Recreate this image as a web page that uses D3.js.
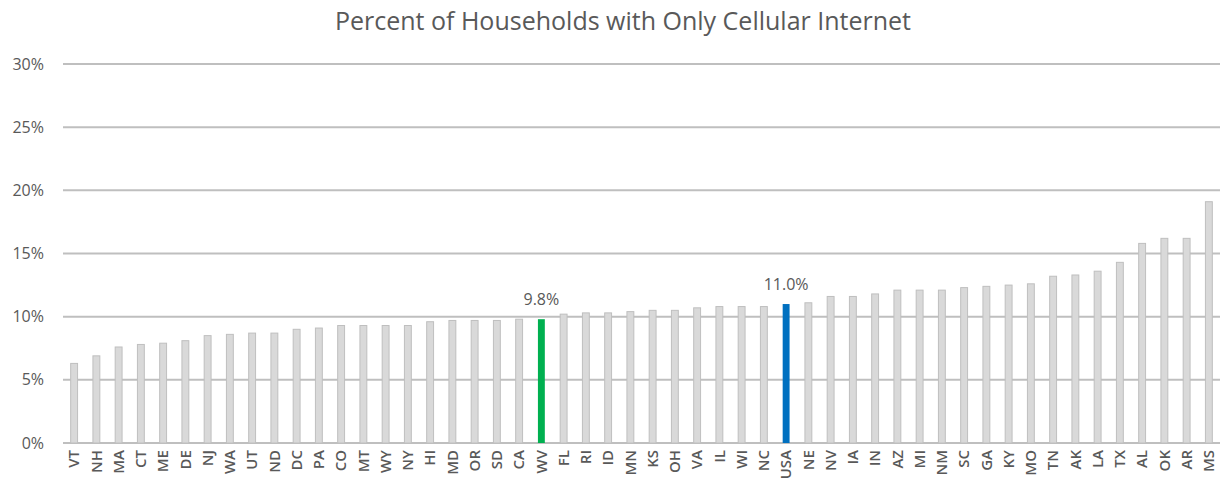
<!DOCTYPE html>
<html><head><meta charset="utf-8">
<script src="https://cdn.jsdelivr.net/npm/d3@7"></script>
<style>body{margin:0;background:#fff;} text{font-family:"Open Sans","Noto Sans",sans-serif;}</style>
</head><body>
<svg id="chart" width="1223" height="487"></svg>
<script>
const states = ["VT","NH","MA","CT","ME","DE","NJ","WA","UT","ND","DC","PA","CO","MT","WY","NY","HI","MD","OR","SD","CA","WV","FL","RI","ID","MN","KS","OH","VA","IL","WI","NC","USA","NE","NV","IA","IN","AZ","MI","NM","SC","GA","KY","MO","TN","AK","LA","TX","AL","OK","AR","MS"];
const values = [6.3,6.9,7.6,7.8,7.9,8.1,8.5,8.6,8.7,8.7,9.0,9.1,9.3,9.3,9.3,9.3,9.6,9.7,9.7,9.7,9.8,9.8,10.2,10.3,10.3,10.4,10.5,10.5,10.7,10.8,10.8,10.8,11.0,11.1,11.6,11.6,11.8,12.1,12.1,12.1,12.3,12.4,12.5,12.6,13.2,13.3,13.6,14.3,15.8,16.2,16.2,19.1];
const yTicks = [0,5,10,15,20,25,30];
const highlight = {"WV":"#00b050","USA":"#0070c0"};
const labelled = ["WV","USA"];

const svg = d3.select("#chart");
const x = d3.scaleBand().domain(states).range([63,1220]).paddingInner(0.69).paddingOuter(0.345);
const y = d3.scaleLinear().domain([0,30]).range([443,64]);

svg.append("text").attr("x",623).attr("y",30).attr("text-anchor","middle")
  .attr("font-size",25).attr("fill","#595959").text("Percent of Households with Only Cellular Internet");

const grid = svg.append("g");
grid.selectAll("line").data(yTicks).join("line")
  .attr("x1",63).attr("x2",1220).attr("y1",d=>y(d)).attr("y2",d=>y(d))
  .attr("stroke","#bfbfbf").attr("stroke-width",2);

const yAxis = d3.axisLeft(y).tickValues(yTicks).tickFormat(d=>d+"%").tickSize(0).tickPadding(0);
const ya = svg.append("g").attr("transform","translate(44,0)").call(yAxis);
ya.select(".domain").remove();
ya.selectAll("text").attr("font-size",16).attr("fill","#595959").style("font-family","'Open Sans','Noto Sans',sans-serif");

svg.append("g").selectAll("rect").data(states).join("rect")
  .attr("x",d=>x(d)).attr("width",x.bandwidth())
  .attr("y",(d,i)=>y(values[i])).attr("height",(d,i)=>y(0)-y(values[i]))
  .attr("fill",d=>highlight[d]||"#d9d9d9")
  .attr("stroke",d=>highlight[d]?"none":"#bfbfbf").attr("stroke-width",1);

const xAxis = d3.axisBottom(x).tickSize(0).tickPadding(0);
const xa = svg.append("g").attr("transform","translate(0,450)").call(xAxis);
xa.select(".domain").remove();
xa.selectAll("text").attr("font-size",15).attr("fill","#595959").attr("font-weight","600")
  .style("font-family","'Open Sans','Noto Sans',sans-serif")
  .attr("transform","rotate(-90)").attr("text-anchor","end").attr("dx",0).attr("dy","0.35em").attr("y",0).attr("x",0);

svg.append("g").selectAll("text").data(labelled).join("text")
  .attr("x",d=>x(d)+x.bandwidth()/2).attr("y",d=>y(values[states.indexOf(d)])-14)
  .attr("text-anchor","middle").attr("font-size",16).attr("fill","#595959")
  .text(d=>values[states.indexOf(d)].toFixed(1)+"%");
</script>
</body></html>
